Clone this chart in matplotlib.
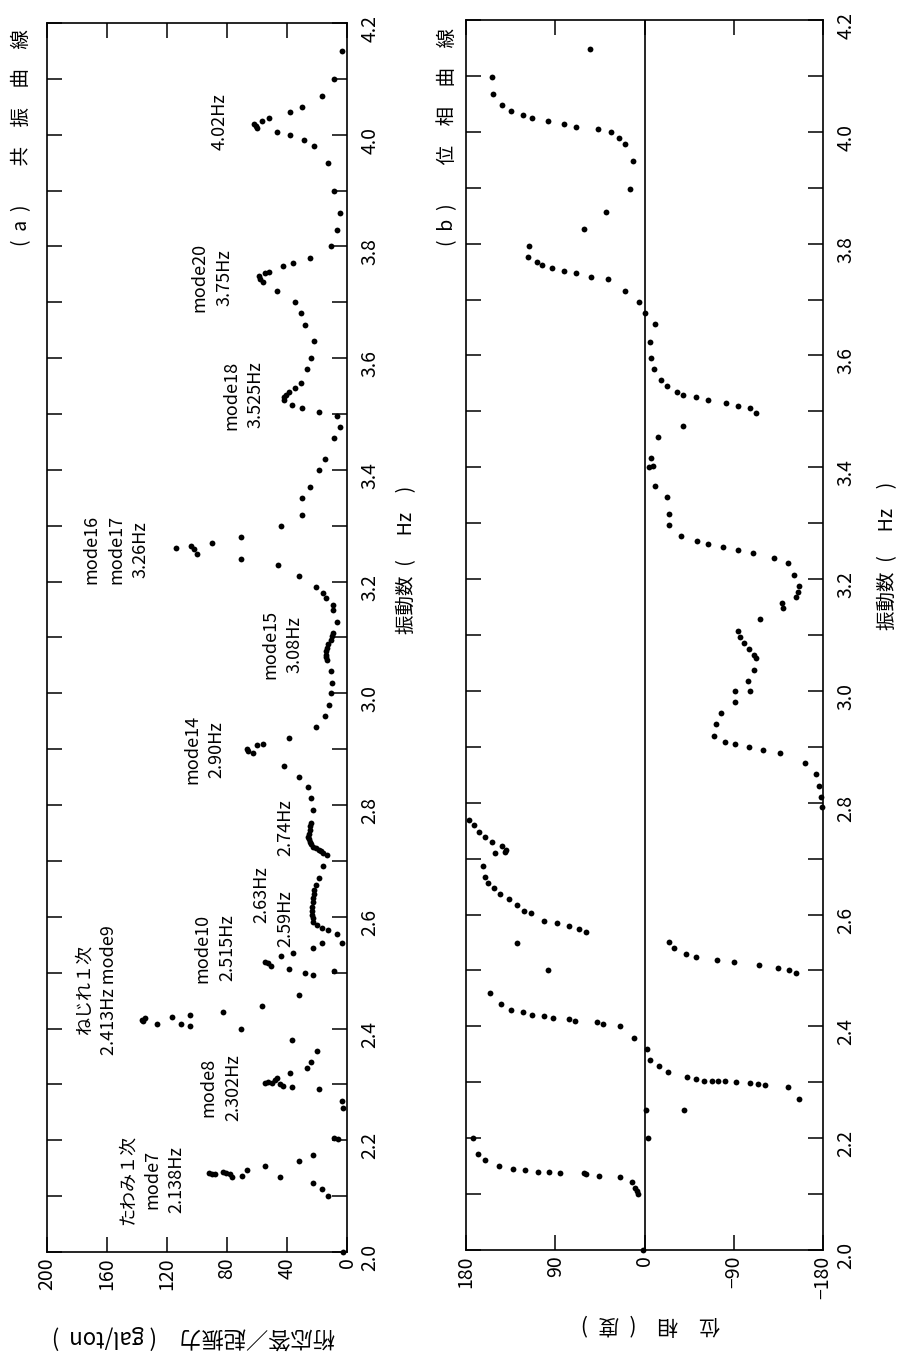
import matplotlib
matplotlib.use("Agg")
import matplotlib.pyplot as plt
from matplotlib.ticker import MultipleLocator

plt.rcParams['font.family'] = ['Noto Sans CJK JP', 'DejaVu Sans']

# (a) resonance curve: frequency (Hz) / response (gal/ton)
freq_a = [2.000, 2.100, 2.113, 2.124, 2.134, 2.135, 2.136, 2.140, 2.140, 2.140, 2.141,
          2.142, 2.143, 2.147, 2.154, 2.163, 2.174, 2.202, 2.204, 2.258, 2.270,
          2.292, 2.296, 2.298, 2.300, 2.303, 2.303, 2.305, 2.308, 2.311, 2.320,
          2.330, 2.340, 2.360, 2.380, 2.400, 2.405, 2.408, 2.408, 2.413, 2.416,
          2.418, 2.420, 2.424, 2.430, 2.440, 2.460, 2.496, 2.500, 2.503, 2.507,
          2.512, 2.518, 2.520, 2.530, 2.535, 2.545, 2.553, 2.553, 2.570, 2.576,
          2.580, 2.585, 2.591, 2.597, 2.603, 2.610, 2.618, 2.626, 2.634, 2.641,
          2.648, 2.657, 2.670, 2.691, 2.711, 2.714, 2.717, 2.720, 2.723, 2.725,
          2.730, 2.734, 2.739, 2.743, 2.749, 2.755, 2.762, 2.768, 2.791, 2.813,
          2.832, 2.850, 2.870, 2.893, 2.897, 2.900, 2.908, 2.910, 2.920, 2.940,
          2.960, 2.980, 3.000, 3.019, 3.040, 3.060, 3.065, 3.069, 3.075, 3.081,
          3.088, 3.096, 3.102, 3.108, 3.128, 3.149, 3.158, 3.170, 3.180, 3.190,
          3.210, 3.230, 3.240, 3.250, 3.258, 3.263, 3.260, 3.270, 3.280, 3.300,
          3.320, 3.350, 3.370, 3.400, 3.420, 3.457, 3.477, 3.497, 3.504, 3.510,
          3.516, 3.526, 3.530, 3.534, 3.540, 3.547, 3.556, 3.580, 3.600, 3.630,
          3.660, 3.680, 3.700, 3.720, 3.737, 3.742, 3.747, 3.752, 3.755, 3.765,
          3.770, 3.780, 3.800, 3.830, 3.860, 3.900, 3.950, 3.980, 3.990, 4.000,
          4.005, 4.012, 4.016, 4.020, 4.025, 4.030, 4.040, 4.050, 4.070, 4.100,
          4.150]
resp_a = [3, 13, 17, 23, 45, 77, 70, 90, 88, 78, 92,
          81, 83, 67, 55, 32, 23, 6, 9, 3, 3.5,
          18.5, 37, 43, 45, 50, 55, 53, 48, 47, 38,
          27, 24, 20, 37, 71, 105, 111, 127, 136, 137,
          135, 117, 105, 83, 57, 32, 23, 28, 9, 39,
          51, 53, 55, 44, 36, 23, 3.3, 17, 7, 12.7,
          17, 20, 22.5, 23, 23.5, 23.5, 23.5, 23, 22.5, 22,
          22, 20.5, 19, 16, 13.5, 16, 17.5, 19, 21, 22.5,
          24, 25, 25.5, 26, 25.5, 25, 24.5, 24, 22.5, 24,
          26, 32, 42, 63, 66, 67, 60, 56, 39, 21,
          15, 12, 11, 10, 10.7, 13.5, 14, 14, 14, 13.5,
          12.5, 11, 10, 9.3, 7, 9.3, 9.3, 14, 16, 21,
          32, 46, 71, 100, 102, 104, 114, 90, 71, 44,
          30, 30, 25, 19, 15, 9, 4.7, 7, 19, 30,
          37, 42, 42, 41, 39, 35, 31, 27, 24, 22,
          28, 31, 35, 47, 56, 58, 59, 55, 52, 43,
          36, 25, 11, 6.7, 4.7, 8.7, 13, 22, 29, 38,
          47, 60, 61, 62, 57, 52, 38, 30, 17, 9,
          3.5]

# (b) phase curve: frequency (Hz) / phase (deg)
freq_b = [2.000, 2.100, 2.105, 2.111, 2.121, 2.131, 2.133, 2.136, 2.137, 2.138,
          2.139, 2.140, 2.143, 2.145, 2.150, 2.161, 2.172, 2.200, 2.200, 2.250,
          2.250, 2.270, 2.292, 2.295, 2.297, 2.299, 2.300, 2.302, 2.302, 2.303,
          2.303, 2.306, 2.309, 2.318, 2.329, 2.340, 2.360, 2.379, 2.400, 2.404,
          2.408, 2.410, 2.413, 2.415, 2.419, 2.420, 2.426, 2.429, 2.440, 2.460,
          2.496, 2.500, 2.504, 2.510, 2.515, 2.519, 2.524, 2.530, 2.540, 2.551,
          2.500, 2.549, 2.569, 2.574, 2.580, 2.585, 2.589, 2.603, 2.606, 2.617,
          2.628, 2.637, 2.648, 2.657, 2.667, 2.687, 2.710, 2.712, 2.716, 2.723,
          2.730, 2.739, 2.748, 2.760, 2.769, 2.792, 2.810, 2.830, 2.852, 2.871,
          2.889, 2.894, 2.900, 2.905, 2.909, 2.920, 2.940, 2.961, 2.980, 3.000,
          3.000, 3.018, 3.038, 3.059, 3.064, 3.075, 3.086, 3.097, 3.107, 3.129,
          3.148, 3.157, 3.168, 3.177, 3.188, 3.208, 3.229, 3.238, 3.247, 3.252,
          3.258, 3.263, 3.268, 3.277, 3.297, 3.317, 3.347, 3.367, 3.400, 3.402,
          3.417, 3.455, 3.474, 3.497, 3.506, 3.510, 3.515, 3.520, 3.526, 3.530,
          3.535, 3.546, 3.556, 3.576, 3.596, 3.624, 3.656, 3.676, 3.696, 3.716,
          3.737, 3.740, 3.747, 3.751, 3.757, 3.762, 3.767, 3.776, 3.796, 3.826,
          3.857, 3.898, 3.948, 3.979, 3.989, 4.000, 4.005, 4.009, 4.014, 4.020,
          4.024, 4.030, 4.038, 4.048, 4.068, 4.098, 4.148]
phase_b = [2, 7, 8, 10, 13, 25, 46, 59, 61, 85,
           96, 107, 121, 133, 147, 161, 168, 173, -4, -2,
           -40, -156, -145, -122, -114, -106, -92, -81, -74, -68,
           -60, -52, -43, -24, -15, -6, -3, 11, 25, 42,
           48, 70, 76, 92, 101, 113, 123, 135, 145, 156,
           -153, -146, -135, -115, -90, -73, -52, -42, -30, -25,
           97, 129, 59, 66, 76, 88, 101, 114, 122, 129,
           137, 146, 152, 158, 161, 163, 151, 141, 140, 144,
           154, 161, 167, 172, 177, -179, -178, -176, -173, -162,
           -137, -119, -105, -91, -81, -70, -72, -77, -91, -91,
           -106, -104, -110, -112, -110, -105, -100, -96, -94, -116,
           -140, -139, -153, -155, -156, -151, -145, -131, -109, -94,
           -79, -64, -53, -37, -25, -25, -23, -11, -5, -9,
           -7, -14, -39, -112, -106, -94, -82, -64, -52, -39,
           -33, -23, -17, -10, -7, -6, -11, -1, 6, 20,
           37, 54, 69, 81, 93, 103, 108, 117, 116, 61,
           39, 15, 12, 20, 26, 34, 47, 69, 81, 97,
           113, 123, 135, 144, 153, 154, 55]

# peak annotations on (a): text, response, frequency
notes_a = [("たわみ１次\nmode7\n2.138Hz", 130, 2.129),
           ("mode8\n2.302Hz", 84, 2.294),
           ("ねじれ１次\n2.413Hz mode9", 167, 2.469),
           ("mode10\n2.515Hz", 88, 2.544),
           ("2.63Hz", 57, 2.639),
           ("2.59Hz", 41, 2.596),
           ("2.74Hz", 41, 2.759),
           ("mode14\n2.90Hz", 95, 2.899),
           ("mode15\n3.08Hz", 43, 3.087),
           ("mode16\nmode17\n3.26Hz", 154, 3.257),
           ("mode18\n3.525Hz", 69, 3.534),
           ("mode20\n3.75Hz", 90, 3.745),
           ("4.02Hz", 85, 4.023)]

W, H = 905, 1359
fig = plt.figure(figsize=(W / 100, H / 100), dpi=100)
axa = fig.add_axes([47 / W, 1 - 1252 / H, 300 / W, 1229 / H])
axb = fig.add_axes([466 / W, 1 - 1250 / H, 357 / W, 1230 / H])


def style(ax):
    ax.yaxis.set_major_locator(MultipleLocator(0.2))
    ax.yaxis.set_minor_locator(MultipleLocator(0.1))
    ax.yaxis.set_major_formatter(lambda v, p: f"{v:.1f}")
    ax.set_ylim(2.0, 4.2)
    ax.tick_params(axis='both', which='both', direction='in', length=11, width=1.1,
                   top=True, bottom=True, left=True, right=True, colors='black')
    ax.tick_params(axis='y', which='both', labelleft=False, labelright=True,
                   labelrotation=90, pad=9, labelsize=14)
    ax.tick_params(axis='x', labelrotation=90, pad=4, labelsize=14)
    for s in ax.spines.values():
        s.set_linewidth(1.2)


style(axa)
axa.set_xlim(200, 0)
axa.set_xticks([200, 160, 120, 80, 40, 0])
axa.plot(resp_a, freq_a, 'o', color='black', ms=4.2, mew=0, clip_on=False)
for txt, r, f in notes_a:
    axa.text(r, f, txt, rotation=90, ha='center', va='center',
             multialignment='center', fontsize=13, linespacing=1.45)

style(axb)
axb.set_xlim(180, -180)
axb.set_xticks([180, 90, 0, -90, -180])
axb.axvline(0, color='black', lw=1.2)
axb.plot(phase_b, freq_b, 'o', color='black', ms=4.2, mew=0, clip_on=False)

# titles and axis labels (the sheet is turned on its side)
sp = "\u3000"
fig.text(22 / W, 1 - 137 / H, "(  a  )" + sp * 2 + sp.join("共振曲線"), rotation=90,
         ha='center', va='center', fontsize=14)
fig.text(448 / W, 1 - 137 / H, "(  b  )" + sp * 2 + sp.join("位相曲線"), rotation=90,
         ha='center', va='center', fontsize=14)
hz = "振動数\u2002(" + sp + " Hz" + sp + ")"
fig.text(407 / W, 1 - 560 / H, hz, rotation=90,
         ha='center', va='center', fontsize=14)
fig.text(888 / W, 1 - 556 / H, hz, rotation=90,
         ha='center', va='center', fontsize=14)
fig.text(193 / W, 1 - 1337 / H, "桁応答／起振力" + sp + "( gal/ton  )", rotation=180,
         ha='center', va='center', fontsize=16)
fig.text(650 / W, 1 - 1324 / H, "位" + sp + "相" + sp + "(\u2002度\u2002)", rotation=180,
         ha='center', va='center', fontsize=15)

fig.savefig("out.png", dpi=100)
